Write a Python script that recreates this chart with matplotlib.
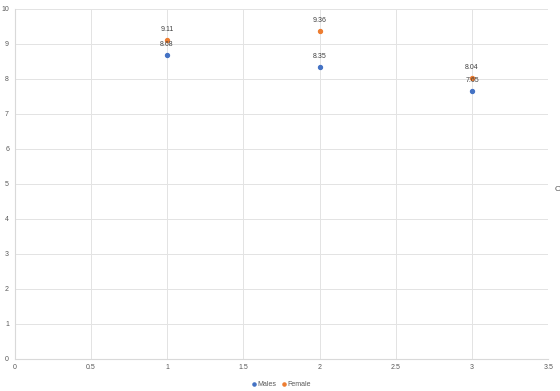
import matplotlib
matplotlib.use("Agg")
import matplotlib.pyplot as plt

x_vals = [1, 2, 3]
males = [8.68, 8.35, 7.65]
female = [9.11, 9.36, 8.04]
x_ticks = [0, 0.5, 1, 1.5, 2, 2.5, 3, 3.5]
x_tick_labels = ["0", "0.5", "1", "1.5", "2", "2.5", "3", "3.5"]
y_ticks = list(range(0, 11))

plt.rcParams['font.family'] = ['Liberation Sans', 'DejaVu Sans']

fig = plt.figure(figsize=(5.6, 3.91), dpi=100)
ax = fig.add_axes([0.026, 0.082, 0.953, 0.895])

grid_c = '#e3e3e3'
text_c = '#595959'

ax.scatter(x_vals, males, s=8, color='#4472C4', label='Males', zorder=3)
ax.scatter(x_vals, female, s=8, color='#ED7D31', label='Female', zorder=3)

for xv, v in zip(x_vals, males):
    ax.annotate(f"{v:.2f}", (xv, v), xytext=(0, 5), textcoords='offset points',
                ha='center', va='bottom', fontsize=5, color='#404040')
for xv, v in zip(x_vals, female):
    ax.annotate(f"{v:.2f}", (xv, v), xytext=(0, 5), textcoords='offset points',
                ha='center', va='bottom', fontsize=5, color='#404040')

ax.set_xlim(0, 3.5)
ax.set_ylim(0, 10)
ax.set_xticks(x_ticks)
ax.set_xticklabels(x_tick_labels)
ax.set_yticks(y_ticks)
ax.grid(True, color=grid_c, lw=0.7)
ax.set_axisbelow(True)
ax.tick_params(length=0, labelsize=5, colors=text_c, pad=4)
for s in ['top', 'right']:
    ax.spines[s].set_visible(False)
for s in ['left', 'bottom']:
    ax.spines[s].set_color('#d9d9d9')
    ax.spines[s].set_linewidth(0.8)

ax.legend(loc='upper center', bbox_to_anchor=(0.5, -0.045), ncol=2, frameon=False,
          fontsize=5, handlelength=0.6, handletextpad=0.2, columnspacing=0.8,
          markerscale=0.8, labelcolor=text_c)

fig.text(0.991, 0.515, "C", fontsize=6, color=text_c, ha='left', va='center')

fig.savefig('out.png', dpi=100)
